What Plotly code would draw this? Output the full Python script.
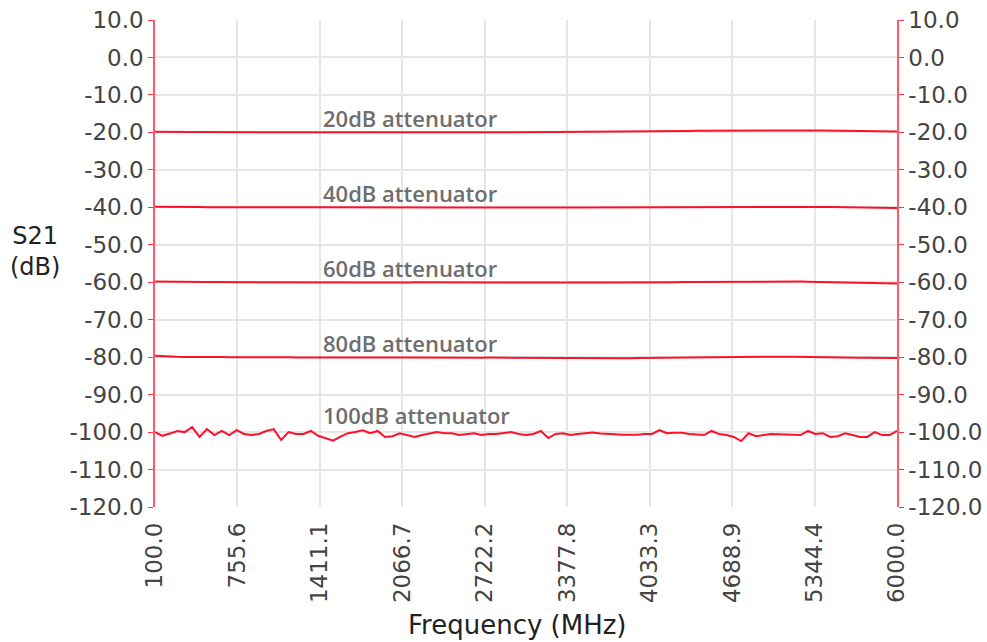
import numpy as np
import plotly.graph_objects as go

# Frequency sweep (MHz), 101 points from 100 to 6000
freq = np.linspace(100, 6000, 101)

att20 = [-19.85, -19.9, -19.9, -19.92, -19.9, -19.92, -19.93, -19.92, -19.9, -19.93, -19.92,
         -19.93, -19.92, -19.94, -19.93, -19.95, -19.94, -19.93, -19.95, -19.94, -19.93,
         -19.95, -19.94, -19.96, -19.95, -19.94, -19.95, -19.96, -19.95, -19.94, -19.96,
         -19.95, -19.96, -19.95, -19.96, -19.95, -19.94, -19.96, -19.95, -19.96, -19.95,
         -19.96, -19.95, -19.94, -19.95, -19.96, -19.95, -19.94, -19.95, -19.96, -19.95,
         -19.94, -19.95, -19.94, -19.93, -19.92, -19.9, -19.88, -19.86, -19.85, -19.84,
         -19.82, -19.8, -19.78, -19.76, -19.74, -19.72, -19.7, -19.68, -19.66, -19.64,
         -19.62, -19.6, -19.58, -19.56, -19.55, -19.53, -19.51, -19.5, -19.48, -19.47,
         -19.46, -19.45, -19.44, -19.43, -19.42, -19.43, -19.44, -19.46, -19.48, -19.5,
         -19.53, -19.56, -19.6, -19.63, -19.66, -19.7, -19.72, -19.74, -19.76, -19.78]

att40 = [-39.85, -39.9, -39.92, -39.93, -39.94, -39.95, -39.95, -39.96, -39.95, -39.96, -39.97,
         -39.96, -39.97, -39.98, -39.97, -39.98, -39.99, -39.98, -39.99, -40.0, -39.99,
         -40.0, -40.0, -40.01, -40.0, -40.01, -40.0, -40.01, -40.02, -40.01, -40.02,
         -40.01, -40.02, -40.03, -40.02, -40.03, -40.02, -40.03, -40.04, -40.03, -40.04,
         -40.03, -40.04, -40.05, -40.04, -40.05, -40.04, -40.05, -40.04, -40.05, -40.06,
         -40.05, -40.06, -40.05, -40.06, -40.07, -40.06, -40.07, -40.06, -40.07, -40.06,
         -40.07, -40.08, -40.07, -40.06, -40.05, -40.04, -40.03, -40.02, -40.0, -39.98,
         -39.96, -39.95, -39.93, -39.92, -39.9, -39.89, -39.88, -39.87, -39.86, -39.85,
         -39.84, -39.83, -39.82, -39.82, -39.81, -39.82, -39.83, -39.85, -39.87, -39.9,
         -39.93, -39.96, -39.99, -40.02, -40.05, -40.08, -40.11, -40.14, -40.17, -40.2]

att60 = [-59.8, -59.85, -59.9, -59.92, -59.94, -59.95, -59.96, -59.97, -59.96, -59.97, -59.98,
         -59.97, -59.98, -59.99, -59.98, -59.99, -60.0, -59.99, -60.0, -60.01, -60.0,
         -60.01, -60.0, -60.01, -60.02, -60.01, -60.02, -60.01, -60.02, -60.03, -60.02,
         -60.03, -60.02, -60.03, -60.04, -60.03, -60.04, -60.03, -60.04, -60.05, -60.04,
         -60.05, -60.04, -60.05, -60.06, -60.05, -60.06, -60.05, -60.06, -60.07, -60.06,
         -60.07, -60.06, -60.07, -60.08, -60.07, -60.08, -60.07, -60.08, -60.09, -60.08,
         -60.09, -60.1, -60.09, -60.08, -60.07, -60.06, -60.05, -60.03, -60.01, -59.99,
         -59.97, -59.95, -59.93, -59.91, -59.9, -59.88, -59.87, -59.86, -59.85, -59.84,
         -59.83, -59.82, -59.82, -59.81, -59.81, -59.82, -59.83, -59.85, -59.88, -59.91,
         -59.95, -59.99, -60.03, -60.08, -60.13, -60.18, -60.23, -60.28, -60.32, -60.36]

att80 = [-79.6, -79.75, -79.85, -79.9, -79.95, -79.92, -79.96, -79.98, -79.95, -79.99, -80.02,
         -80.0, -80.03, -80.05, -80.02, -80.04, -80.06, -80.03, -80.05, -80.07, -80.04,
         -80.06, -80.08, -80.05, -80.03, -80.06, -80.08, -80.05, -80.07, -80.09, -80.06,
         -80.08, -80.1, -80.07, -80.09, -80.11, -80.08, -80.1, -80.12, -80.09, -80.11,
         -80.13, -80.1, -80.12, -80.14, -80.11, -80.13, -80.15, -80.12, -80.14, -80.16,
         -80.13, -80.15, -80.17, -80.14, -80.16, -80.18, -80.2, -80.22, -80.24, -80.26,
         -80.28, -80.3, -80.29, -80.27, -80.25, -80.22, -80.2, -80.18, -80.15, -80.12,
         -80.1, -80.08, -80.05, -80.03, -80.0, -79.98, -79.96, -79.94, -79.92, -79.9,
         -79.89, -79.88, -79.87, -79.86, -79.86, -79.87, -79.88, -79.9, -79.92, -79.95,
         -79.98, -80.02, -80.06, -80.1, -80.14, -80.18, -80.15, -80.2, -80.1, -80.22, -80.25]

att100 = [-100.0, -101.0, -100.4, -99.7, -100.0, -98.7, -101.3, -99.2, -100.8, -99.7, -100.8,
          -99.5, -100.5, -100.8, -100.5, -99.7, -99.2, -102.1, -100.0, -100.5, -100.5,
          -99.7, -101.0, -101.7, -102.3, -101.2, -100.3, -100.0, -99.5, -100.3, -99.7,
          -101.3, -101.1, -100.3, -100.8, -101.3, -100.8, -100.5, -100.0, -100.3, -100.3,
          -100.8, -100.5, -100.3, -100.8, -100.5, -100.5, -100.3, -100.0, -100.5, -100.8,
          -100.5, -99.7, -101.6, -100.5, -100.3, -100.8, -100.5, -100.3, -100.1, -100.4,
          -100.4, -100.6, -100.7, -100.8, -100.7, -100.5, -100.5, -99.5, -100.3, -100.2,
          -100.2, -100.5, -100.6, -100.8, -99.7, -100.5, -100.8, -101.3, -102.4, -100.3,
          -101.1, -100.8, -100.5, -100.6, -100.6, -100.6, -100.8, -99.7, -100.5, -100.3,
          -101.3, -101.1, -100.3, -100.8, -101.3, -101.3, -100.0, -100.8, -100.8, -99.7]

series = [att20, att40, att60, att80, att100]
labels = ["20dB attenuator", "40dB attenuator", "60dB attenuator",
          "80dB attenuator", "100dB attenuator"]
label_y = [-16.2, -36.2, -56.2, -76.2, -95.4]
label_x = 1420

y_ticks = list(range(10, -121, -10))
x_ticks = [100.0, 755.6, 1411.1, 2066.7, 2722.2, 3377.8, 4033.3, 4688.9, 5344.4, 6000.0]

RED = "#ff0f2a"
fig = go.Figure()
for s in series:
    fig.add_trace(go.Scatter(x=freq, y=s, mode="lines",
                             line=dict(color=RED, width=2), showlegend=False,
                             hoverinfo="x+y"))
# invisible trace on the right-side axis
fig.add_trace(go.Scatter(x=[freq[0]], y=[att20[0]], yaxis="y2", mode="lines",
                         line=dict(color="rgba(0,0,0,0)"), showlegend=False,
                         hoverinfo="skip"))

for t, yv in zip(labels, label_y):
    fig.add_annotation(x=label_x, y=yv, text=t, showarrow=False, xanchor="left",
                       yanchor="middle",
                       font=dict(family="Open Sans", size=22, color="#6e6e6e", weight=600))

fig.add_annotation(xref="paper", yref="paper", x=-0.162, y=0.524, text="S21<br>(dB)",
                   showarrow=False, xanchor="center", yanchor="middle", align="center",
                   font=dict(family="DejaVu Sans", size=24, color="#222"))

fig.add_annotation(xref="paper", yref="paper", x=0.489, y=-0.242, text="Frequency (MHz)",
                   showarrow=False, xanchor="center", yanchor="middle",
                   font=dict(family="DejaVu Sans", size=26, color="#222"))

tick_font = dict(family="DejaVu Sans", size=23, color="#444")
yaxis_common = dict(range=[-120, 10], tickvals=y_ticks,
                    ticktext=[f"{v:.1f}" for v in y_ticks],
                    showline=True, linecolor="#ff5a6a", linewidth=1.5,
                    ticks="outside", tickcolor="#ff3344", ticklen=5,
                    tickfont=tick_font, zeroline=False, automargin=False,
                    ticklabeloverflow="allow")

fig.update_layout(
    width=987, height=642,
    margin=dict(l=155, r=90, t=20, b=135),
    plot_bgcolor="white", paper_bgcolor="white",
    xaxis=dict(range=[100, 6000], tickvals=x_ticks,
               ticktext=[f"{v:.1f}" for v in x_ticks],
               tickangle=-90, tickfont=tick_font, showgrid=True, automargin=False,
               ticklabelstandoff=10, ticklabeloverflow="allow",
               gridcolor="#e6e6e6", gridwidth=1.5, zeroline=False, showline=False),
    yaxis=dict(**yaxis_common, showgrid=True, gridcolor="#e6e6e6", gridwidth=1.5),
    yaxis2=dict(**yaxis_common, overlaying="y", side="right", showgrid=False),
)

fig.write_html("out.html",
               config={"displayModeBar": False},
               post_script="document.body.style.margin='0';"
                           "document.body.style.overflow='hidden';")
